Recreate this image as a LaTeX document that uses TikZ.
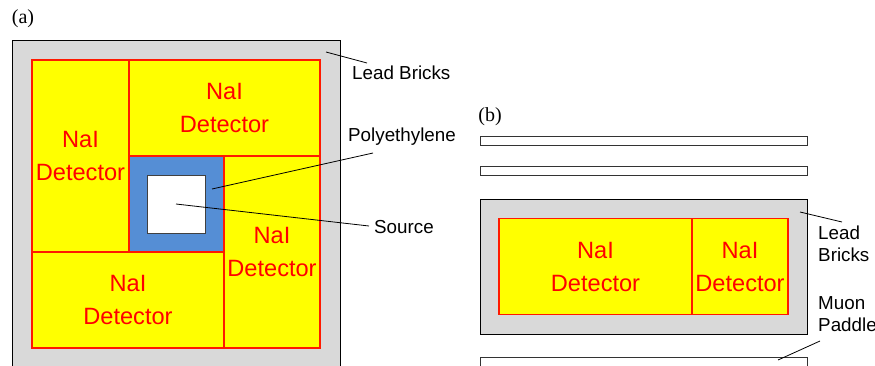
\documentclass[tikz,border=0pt]{standalone}
\usepackage{fontspec}
\setmainfont{Liberation Serif}
\newfontfamily\labelsans{Liberation Sans}
\definecolor{leadgray}{HTML}{D9D9D9}
\definecolor{naiyellow}{HTML}{FFFF00}
\definecolor{naired}{HTML}{FF1A00}
\definecolor{naitextred}{HTML}{FF0000}
\definecolor{polyblue}{HTML}{558ED5}
\definecolor{srcedge}{HTML}{404040}
\begin{document}
\begin{tikzpicture}[x=1pt,y=-1pt,
  lead/.style={fill=leadgray,draw=black,line width=1pt,inner sep=0pt},
  nai/.style={fill=naiyellow,draw=naired,line width=1.3pt,inner sep=0pt,
    text=naitextred,align=center,font=\labelsans\fontsize{23.6}{33}\selectfont},
  poly/.style={fill=polyblue,draw=naired,line width=1.3pt,inner sep=0pt},
  srcbox/.style={fill=white,draw=srcedge,line width=1pt,inner sep=0pt,minimum width=58pt,minimum height=58pt},
  paddle/.style={fill=white,draw=black!80,line width=1pt,inner sep=0pt,minimum width=327pt,minimum height=9.3pt},
  lbl/.style={font=\labelsans\fontsize{18.8}{22}\selectfont,inner sep=0pt,align=left},
  leader/.style={draw=black,line width=0.8pt},
  panel/.style={font=\fontsize{20}{24}\selectfont,inner sep=0pt}]
\clip (0,0) rectangle (875,365);
\fill[white] (0,0) rectangle (875,365);
% ---------- panel (a)
\node[panel] (pa) at (23,19) {(a)};
\node[lead,minimum width=328pt,minimum height=340pt] (leada) at (176,210) {};
\node[poly,minimum width=95pt,minimum height=96pt] (polya) at (176.5,204) {};
\node[nai,minimum width=97pt,minimum height=192pt] (d1) at (80.5,156) {NaI\\Detector};
\node[nai,minimum width=191pt,minimum height=96pt] (d2) at (224.5,108) {NaI\\Detector};
\node[nai,minimum width=96pt,minimum height=192pt] (d3) at (272,252) {NaI\\Detector};
\node[nai,minimum width=192pt,minimum height=96pt] (d4) at (128,300) {NaI\\Detector};
\node[srcbox] (src) at (176,204) {};
\node[lbl,anchor=base west] (leadlbla) at (352,79) {Lead Bricks};
\node[lbl,anchor=base west] (polylbl) at (348,141) {Polyethylene};
\node[lbl,anchor=base west] (srclbl) at (374,233) {Source};
\coordinate (leadpta) at (326,52);
\coordinate (leadenda) at (367,63);
\coordinate (polypt) at (212,189);
\coordinate (polyend) at (373,153);
\coordinate (srcend) at (369,226);
\draw[leader] (leadpta) -- (leadenda);
\draw[leader] (polypt) -- (polyend);
\draw[leader] (src.center) -- (srcend);
% ---------- panel (b)
\node[panel] (pb) at (490,117) {(b)};
\node[paddle] (p1) at (643.5,140.7) {};
\node[paddle] (p2) at (643.5,171.3) {};
\node[paddle] (p3) at (643.5,362) {};
\node[lead,minimum width=327pt,minimum height=135pt] (leadb) at (643.5,266.5) {};
\node[nai,minimum width=193pt,minimum height=96.5pt] (db1) at (595.5,266.5) {NaI\\Detector};
\node[nai,minimum width=96pt,minimum height=96.5pt] (db2) at (740,266.5) {NaI\\Detector};
\node[lbl,anchor=west] (leadlblb) at (818,243.5) {Lead\\Bricks};
\node[lbl,anchor=west] (muonlbl) at (818,314.5) {Muon\\Paddle};
\coordinate (leadptb) at (800,212);
\coordinate (leadendb) at (842,222);
\coordinate (muonpt) at (778,360);
\coordinate (muonend) at (820,341);
\draw[leader] (leadptb) -- (leadendb);
\draw[leader] (muonpt) -- (muonend);
\end{tikzpicture}
\end{document}
